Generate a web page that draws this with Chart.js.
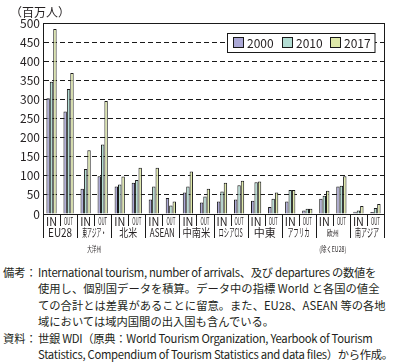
<!DOCTYPE html>
<html>
<head>
<meta charset="utf-8">
<script src="https://cdn.jsdelivr.net/npm/chart.js@4.4.1/dist/chart.umd.min.js"></script>
<style>
  html, body { margin: 0; padding: 0; background: #fff; }
  body { width: 406px; height: 362px; position: relative; overflow: hidden; font-family: "Noto Sans CJK JP", "Noto Sans", sans-serif; color: #231f20; }
  #wrap { position: absolute; left: 0; top: 0; width: 406px; height: 262px; }
  .notes { position: absolute; left: 3px; top: 264px; width: 403px; font-size: 11.3px; line-height: 16.4px; }
  .row { display: flex; }
  .lab { width: 35px; flex: none; white-space: nowrap; }
  .txt { flex: 1; white-space: nowrap; }
  .tight { letter-spacing: -0.3px; }
</style>
</head>
<body>
<div id="wrap"><canvas id="chart"></canvas></div>
<div class="notes">
  <div class="row"><div class="lab">備考：</div><div class="txt"><span class="tight">International tourism, number of arrivals、及び departures の数値を</span><br>使用し、個別国データを積算。データ中の指標 World と各国の値全<br>ての合計とは差異があることに留意。また、EU28、ASEAN 等の各地<br>域においては域内国間の出入国も含んでいる。</div></div>
  <div class="row"><div class="lab">資料：</div><div class="txt"><span class="tight">世銀 WDI（原典：World Tourism Organization, Yearbook of Tourism</span><br><span class="tight">Statistics, Compendium of Tourism Statistics and data files）から作成。</span></div></div>
</div>
<script>
// regions (two bar groups each: IN / OUT)
const regions = ['EU28', '東アジア・', '北米', 'ASEAN', '中南米', 'ロシアCIS', '中東', 'アフリカ', '欧州', '南アジア'];
const regionSub = ['', '大洋州', '', '', '', '', '', '', '(除くEU28)', ''];
const flows = ['IN', 'OUT'];
const years = ['2000', '2010', '2017'];

// 百万人, order: EU28 IN, EU28 OUT, 東アジア IN, ...
const v2000 = [303, 268, 66, 99, 72, 82, 38, 42, 56, 30, 33, 38, 35, 18, 33, 9, 40, 72, 6, 5];
const v2010 = [346, 327, 118, 182, 77, 89, 72, 22, 72, 46, 59, 75, 83, 40, 63, 14, 48, 74, 9, 16];
const v2017 = [484, 369, 167, 296, 98, 121, 121, 33, 111, 66, 82, 87, 85, 56, 63, 14, 61, 99, 21, 26];

const yTicks = [0, 50, 100, 150, 200, 250, 300, 350, 400, 450, 500];

const labels = [];
regions.forEach(r => flows.forEach(f => labels.push(f)));

const colors = ['#aba8d6', '#b3ddd3', '#dfe9aa'];
const edge = '#1a1a1a';
const jp = '"Noto Sans CJK JP", "Noto Sans", sans-serif';

const extras = {
    id: 'extras',
    afterDraw(chart) {
        const ctx = chart.ctx;
        const a = chart.chartArea;
        const x = chart.scales.x;
        const lineBottom = 238;
        ctx.save();
        ctx.strokeStyle = edge;
        ctx.lineWidth = 1;

        // frame: top, right, left extension
        ctx.beginPath();
        ctx.moveTo(a.left, a.top + 0.5);
        ctx.lineTo(a.right, a.top + 0.5);
        ctx.moveTo(a.right + 0.5, a.top);
        ctx.lineTo(a.right + 0.5, lineBottom);
        ctx.moveTo(a.left + 0.5, a.bottom);
        ctx.lineTo(a.left + 0.5, lineBottom);
        ctx.moveTo(a.left, a.bottom + 0.5);
        ctx.lineTo(a.right, a.bottom + 0.5);
        ctx.stroke();

        // separators between groups
        for (let i = 1; i < labels.length; i++) {
            const px = Math.round((x.getPixelForValue(i - 1) + x.getPixelForValue(i)) / 2) + 0.5;
            ctx.beginPath();
            ctx.moveTo(px, a.bottom);
            ctx.lineTo(px, i % 2 === 0 ? lineBottom : 226);
            ctx.stroke();
        }

        // IN / OUT row
        ctx.fillStyle = '#231f20';
        ctx.textAlign = 'center';
        ctx.textBaseline = 'middle';
        labels.forEach((lab, i) => {
            const px = x.getPixelForValue(i);
            ctx.font = (lab === 'OUT' ? '10px ' : '12px ') + jp;
            ctx.fillText(lab, px, 221, lab === 'OUT' ? 9 : 11);
        });

        // region row
        const widths = [24, 24, 18, 25, 28, 24, 22, 22, 12, 24];
        regions.forEach((r, k) => {
            const px = (x.getPixelForValue(2 * k) + x.getPixelForValue(2 * k + 1)) / 2;
            ctx.font = (k === 8 ? '8px ' : '11.5px ') + jp;
            ctx.fillText(r, px, 232.5, widths[k]);
            if (regionSub[k]) {
                ctx.font = '8px ' + jp;
                ctx.fillText(regionSub[k], px, 249, k === 1 ? 14 : 27);
            }
        });

        // unit title
        ctx.textAlign = 'left';
        ctx.font = '12px ' + jp;
        ctx.fillText('（百万人）', 10, 12);

        // legend box
        ctx.fillStyle = '#fff';
        ctx.fillRect(227, 33, 148, 19);
        ctx.strokeRect(227.5, 33.5, 147.5, 19);
        const sx = [233, 282, 330];
        chart.data.datasets.forEach((ds, j) => {
            ctx.fillStyle = ds.backgroundColor;
            ctx.fillRect(sx[j], 37, 11, 11);
            ctx.strokeRect(sx[j] + 0.5, 37.5, 10, 10);
            ctx.fillStyle = '#231f20';
            ctx.font = '12px ' + jp;
            ctx.fillText(ds.label, sx[j] + 14, 43);
        });
        ctx.restore();
    }
};

new Chart(document.getElementById('chart'), {
    type: 'bar',
    data: {
        labels: labels,
        datasets: [
            { label: years[0], data: v2000, backgroundColor: colors[0] },
            { label: years[1], data: v2010, backgroundColor: colors[1] },
            { label: years[2], data: v2017, backgroundColor: colors[2] }
        ]
    },
    options: {
        responsive: true,
        maintainAspectRatio: false,
        animation: false,
        layout: { padding: { left: 0, top: 23, right: 22, bottom: 48 } },
        datasets: {
            bar: {
                borderColor: edge,
                borderWidth: 1,
                categoryPercentage: 0.6,
                barPercentage: 1.0
            }
        },
        plugins: {
            legend: { display: false },
            tooltip: { enabled: false }
        },
        scales: {
            x: {
                display: false
            },
            y: {
                min: 0,
                max: 500,
                afterFit: function(scale) { scale.width = 43; },
                afterBuildTicks: function(scale) { scale.ticks = yTicks.map(v => ({ value: v })); },
                ticks: {
                    padding: 3,
                    color: '#231f20',
                    font: { size: 12, family: jp }
                },
                grid: {
                    drawTicks: false,
                    color: function(c) {
                        const v = c.tick ? c.tick.value : 0;
                        return (v === 0 || v === 500) ? 'rgba(0,0,0,0)' : edge;
                    }
                },
                border: { color: edge, width: 1, dash: [5, 3] }
            }
        }
    },
    plugins: [extras]
});
</script>
</body>
</html>
